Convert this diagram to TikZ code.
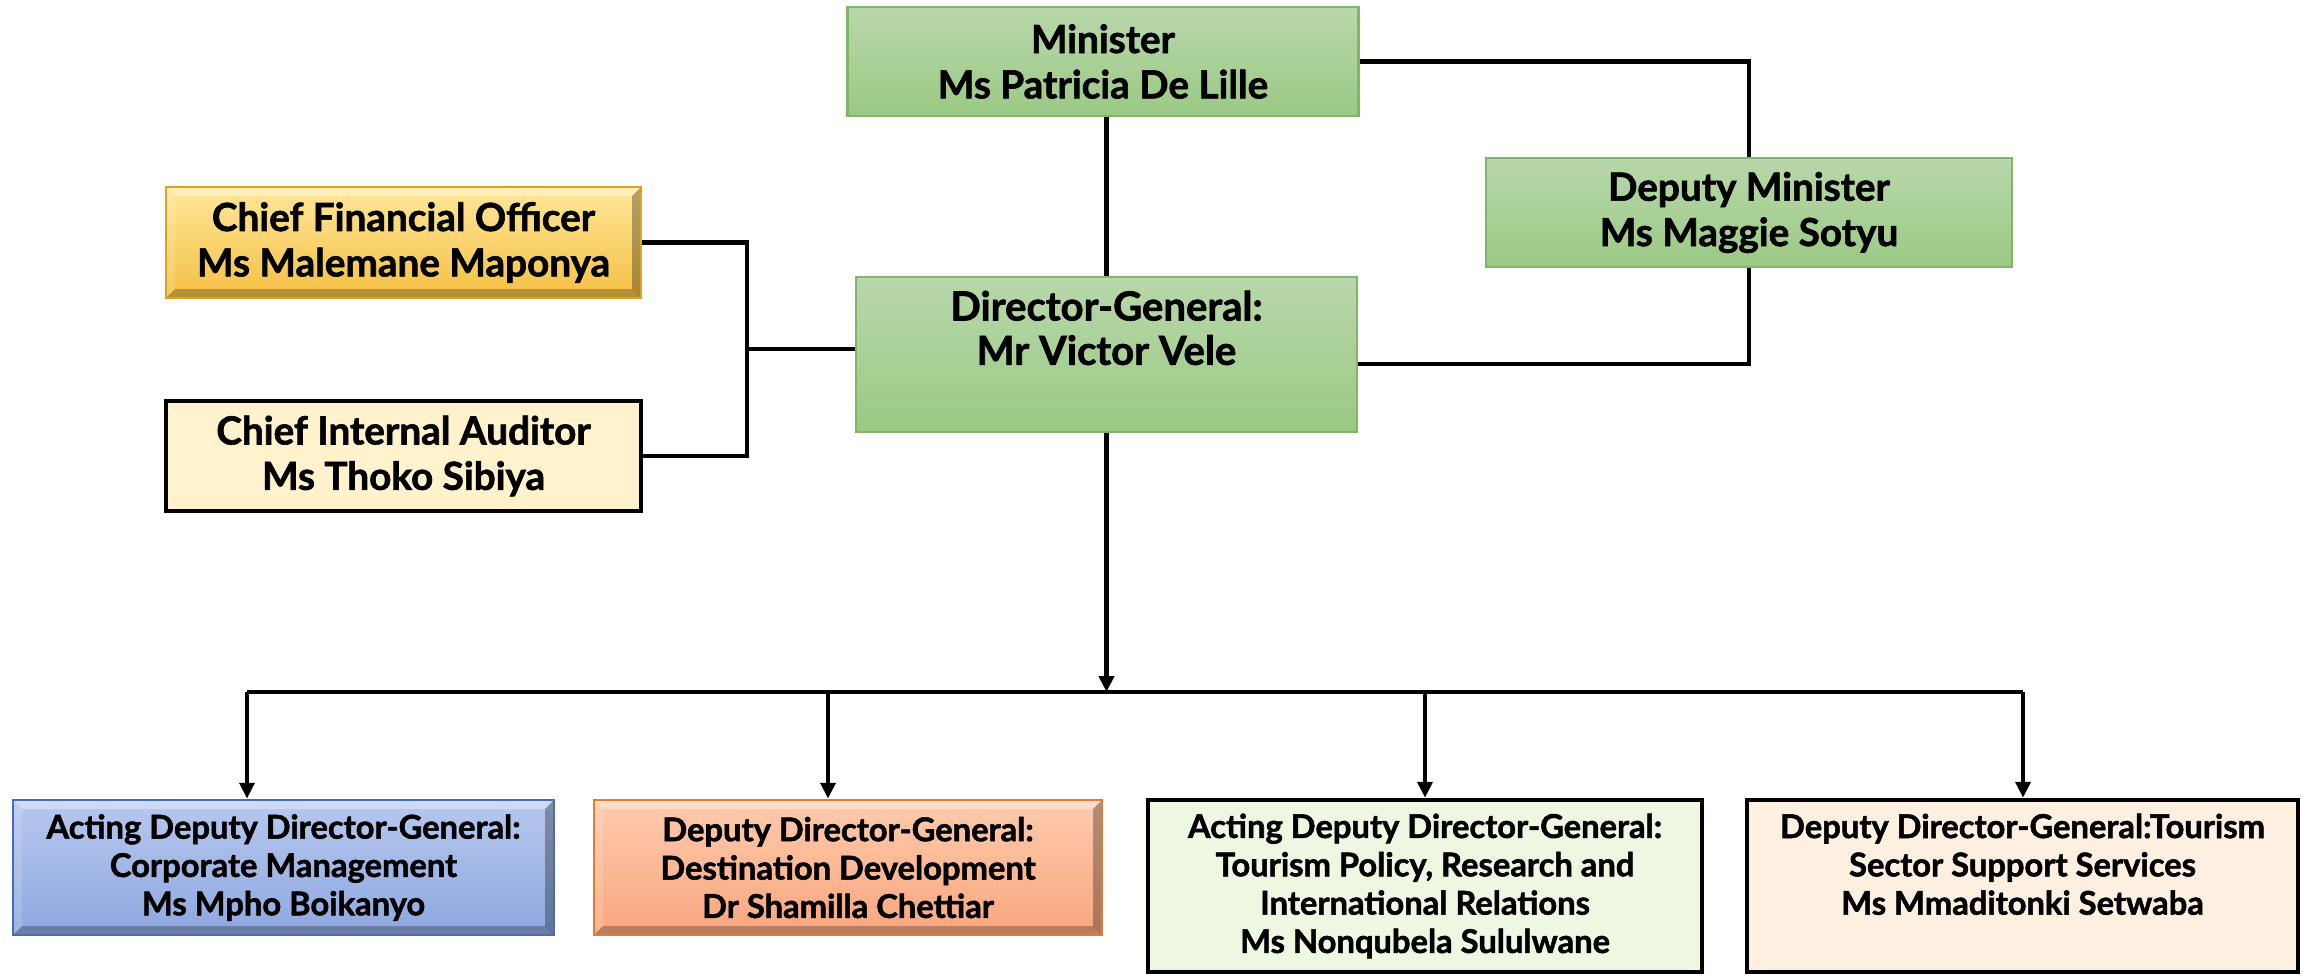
\documentclass[tikz,border=0pt]{standalone}
\usepackage{fontspec}
\setmainfont{Lato}[BoldFeatures={FakeBold=1.6}]
\usetikzlibrary{arrows.meta,calc}
\definecolor{grtop}{HTML}{B8D7AA}
\definecolor{grbot}{HTML}{9BC985}
\definecolor{grline}{HTML}{82B567}
\definecolor{goldtop}{HTML}{FFE79A}
\definecolor{goldbot}{HTML}{F4C043}
\definecolor{goldline}{HTML}{D9A520}
\definecolor{ciafill}{HTML}{FFF2CC}
\definecolor{bltop}{HTML}{B7C8EF}
\definecolor{blbot}{HTML}{8EA7DF}
\definecolor{blline}{HTML}{4B6CB0}
\definecolor{ortop}{HTML}{FDCBAE}
\definecolor{orbot}{HTML}{F9A67E}
\definecolor{orline}{HTML}{E07B3C}
\definecolor{ltgreen}{HTML}{EEF7E2}
\definecolor{peach}{HTML}{FDF0E0}
\newcommand{\bevelpic}{%
  \coordinate (pnw) at (path picture bounding box.north west);
  \coordinate (pne) at (path picture bounding box.north east);
  \coordinate (psw) at (path picture bounding box.south west);
  \coordinate (pse) at (path picture bounding box.south east);
  \fill[white,opacity=0.35] (pnw) -- (pne) -- ($(pne)+(-9,9)$) -- ($(pnw)+(9,9)$) -- cycle;
  \fill[white,opacity=0.15] (pnw) -- ($(pnw)+(9,9)$) -- ($(psw)+(9,-9)$) -- (psw) -- cycle;
  \fill[black,opacity=0.25] (psw) -- (pse) -- ($(pse)+(-9,-9)$) -- ($(psw)+(9,-9)$) -- cycle;
  \fill[black,opacity=0.3] (pne) -- (pse) -- ($(pse)+(-9,-9)$) -- ($(pne)+(-9,9)$) -- cycle;
}
\tikzset{
  every node/.style={align=center, inner sep=0pt},
  greenbox/.style={draw=grline, line width=0.8pt, top color=grtop, bottom color=grbot},
  goldbox/.style={draw=goldline, line width=0.8pt, top color=goldtop, bottom color=goldbot, path picture={\bevelpic}},
  bluebox/.style={draw=blline, line width=0.8pt, top color=bltop, bottom color=blbot, path picture={\bevelpic}},
  orangebox/.style={draw=orline, line width=0.8pt, top color=ortop, bottom color=orbot, path picture={\bevelpic}},
  blackbox/.style={draw=black, line width=1.3pt},
  toptext/.style={font=\fontsize{11}{12.9}\selectfont\bfseries},
  dgtext/.style={font=\fontsize{11.4}{12.6}\selectfont\bfseries},
  bottext/.style={font=\fontsize{9.3}{10.9}\selectfont\bfseries},
  conn/.style={line width=1.2pt},
  arr/.style={line width=1.2pt, -{Triangle[length=4.5pt,width=4.2pt]}}
}
\begin{document}
\begin{tikzpicture}[x=0.01cm,y=-0.01cm]
\useasboundingbox (0,0) rectangle (2310,975);
% top level
\node[greenbox, toptext, minimum width=511*0.01cm, minimum height=109*0.01cm] (min) at (1103,61.5) {Minister\\Ms Patricia De Lille};
\node[greenbox, toptext, minimum width=526*0.01cm, minimum height=109*0.01cm] (dm) at (1749,212.5) {Deputy Minister\\Ms Maggie Sotyu};
\node[goldbox, toptext, minimum width=475*0.01cm, minimum height=111*0.01cm] (cfo) at (403.5,242.5) {Chief Financial Officer\\Ms Malemane Maponya};
\node[blackbox, fill=ciafill, toptext, minimum width=475*0.01cm, minimum height=110*0.01cm] (cia) at (403.5,456) {Chief Internal Auditor\\Ms Thoko Sibiya};
\node[greenbox, minimum width=501*0.01cm, minimum height=155*0.01cm] (dg) at (1106.5,354.5) {};
\node[dgtext, anchor=north] (dgt) at (1106.5,290) {Director-General:\\Mr Victor Vele};
% bottom level
\node[bluebox, bottext, minimum width=541*0.01cm, minimum height=135*0.01cm] (b1) at (283.5,867.5) {Acting Deputy Director-General:\\Corporate Management\\Ms Mpho Boikanyo};
\node[orangebox, bottext, minimum width=508*0.01cm, minimum height=135*0.01cm] (b2) at (848,867.5) {Deputy Director-General:\\Destination Development\\Dr Shamilla Chettiar};
\node[blackbox, fill=ltgreen, bottext, minimum width=554*0.01cm, minimum height=172*0.01cm] (b3) at (1425,886) {Acting Deputy Director-General:\\Tourism Policy, Research and\\International Relations\\Ms Nonqubela Sululwane};
\node[blackbox, fill=peach, minimum width=551*0.01cm, minimum height=172*0.01cm] (b4) at (2022.5,886) {};
\node[bottext, anchor=north] (b4t) at (2022.5,813) {Deputy Director-General:Tourism\\Sector Support Services\\Ms Mmaditonki Setwaba};
% connectors
\coordinate (mt) at (1106.5,0);
\draw[conn] (min.south -| mt) -- (dg.north);
\draw[conn] (min.east) -| (dm.north);
\coordinate (rb) at (dm.south |- 0,364);
\draw[conn] (dm.south) -- (rb) -- (rb -| dg.east);
\coordinate (lb) at (747,349);
\draw[conn] (cfo.east) -| (lb) |- (cia.east);
\draw[conn] (lb) -- (lb -| dg.west);
\coordinate (bus) at (1106.5,692);
\draw[arr] (dg.south) -- (bus);
\coordinate (d1) at (247,692);
\coordinate (d2) at (828,692);
\coordinate (d3) at (1425,692);
\coordinate (d4) at (2023,692);
\draw[conn] (d1) -- (d4);
\draw[arr] (d1) -- (d1 |- b1.north);
\draw[arr] (d2) -- (d2 |- b2.north);
\draw[arr] (d3) -- (d3 |- b3.north);
\draw[arr] (d4) -- (d4 |- b4.north);
\end{tikzpicture}
\end{document}
